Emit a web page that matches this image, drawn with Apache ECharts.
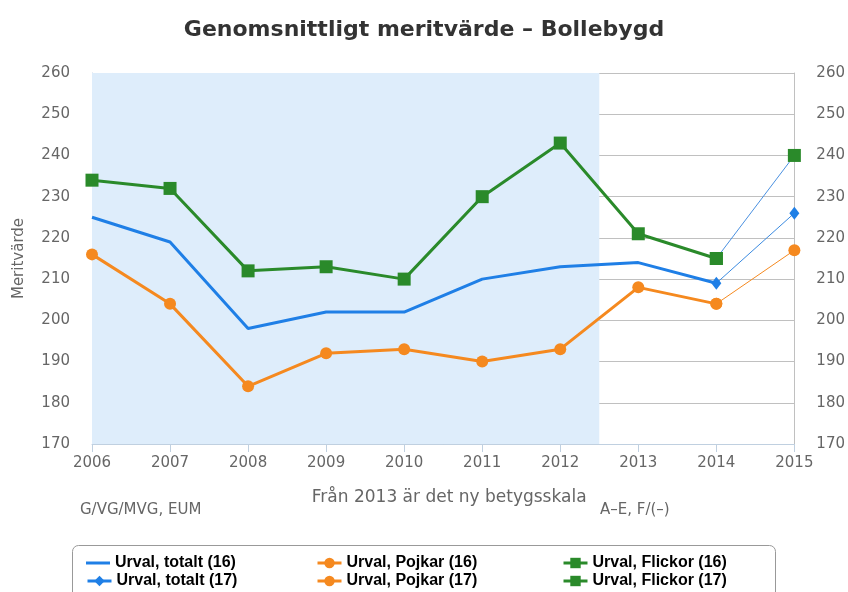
<!DOCTYPE html>
<html>
<head>
<meta charset="utf-8">
<script src="https://cdn.jsdelivr.net/npm/echarts@6/dist/echarts.min.js"></script>
<style>
  html, body { margin: 0; padding: 0; background: #fff; }
  #chart { width: 848px; height: 592px; }
</style>
</head>
<body>
<div id="chart"></div>
<script>
// årtal och värden
const years = [2006, 2007, 2008, 2009, 2010, 2011, 2012, 2013, 2014];
const totalt16 = [225, 219, 198, 202, 202, 210, 213, 214, 209];
const pojkar16 = [216, 204, 184, 192, 193, 190, 193, 208, 204];
const flickor16 = [234, 232, 212, 213, 210, 230, 243, 221, 215];

// 2017-urval: 2014 -> 2015
const years17 = [2014, 2015];
const totalt17 = [209, 226];
const pojkar17 = [204, 217];
const flickor17 = [215, 240];

const bandFrom = 2006;
const bandTo = 2012.5;

const BLUE = '#1f7fe6';
const ORANGE = '#f5891f';
const GREEN = '#2a8a2a';

const pair = (xs, ys) => xs.map((x, i) => [x, ys[i]]);

const chart = echarts.init(document.getElementById('chart'));

const axisLbl = { color: '#666', fontSize: 15, fontFamily: 'DejaVu Sans' };

// en legend per post, så att kolumnerna hamnar rätt
const makeLegend = (name, left, top, color, extra) => Object.assign({
  data: [name],
  left: left,
  top: top,
  padding: 0,
  itemWidth: 24,
  itemHeight: 13,
  itemGap: 0,
  lineStyle: { width: 3, color: color },
  textStyle: { fontFamily: 'Liberation Sans', fontWeight: 'bold', fontSize: 16, color: '#000' }
}, extra || {});

const row1 = 555, row2 = 573;

const option = {
  animation: false,
  title: {
    text: 'Genomsnittligt meritvärde – Bollebygd',
    left: 'center',
    top: 14,
    textStyle: { fontFamily: 'DejaVu Sans', fontSize: 22, fontWeight: 'bold', color: '#333' }
  },
  grid: { left: 92, right: 52, top: 73, bottom: 148 },
  legend: [
    makeLegend('Urval, totalt (16)', 86, row1, BLUE, { icon: 'rect', itemHeight: 3, itemStyle: { color: BLUE } }),
    makeLegend('Urval, totalt (17)', 86, row2, BLUE),
    makeLegend('Urval, Pojkar (16)', 316, row1, ORANGE),
    makeLegend('Urval, Pojkar (17)', 316, row2, ORANGE),
    makeLegend('Urval, Flickor (16)', 562, row1, GREEN),
    makeLegend('Urval, Flickor (17)', 562, row2, GREEN)
  ],
  graphic: [
    {
      type: 'rect',
      shape: { x: 72.5, y: 545.5, width: 703, height: 60, r: 6 },
      style: { fill: '#fff', stroke: '#999', lineWidth: 1 },
      z: -1
    },
    {
      type: 'text',
      left: 80, top: 503,
      style: { text: 'G/VG/MVG, EUM', fill: '#666', font: '15px DejaVu Sans' }
    },
    {
      type: 'text',
      left: 600, top: 503,
      style: { text: 'A–E, F/(–)', fill: '#666', font: '15px DejaVu Sans' }
    }
  ],
  xAxis: {
    type: 'value',
    min: 2006,
    max: 2015,
    interval: 1,
    name: 'Från 2013 är det ny betygsskala',
    nameLocation: 'middle',
    nameGap: 45,
    nameTextStyle: { color: '#666', fontSize: 17, fontFamily: 'DejaVu Sans', padding: [0, 0, 0, 12] },
    axisLine: { lineStyle: { color: '#c0d0e0' } },
    axisTick: { show: true, length: 8, lineStyle: { color: '#c0d0e0' } },
    axisLabel: Object.assign({ margin: 12, formatter: v => String(v) }, axisLbl),
    splitLine: { show: false }
  },
  yAxis: [
    {
      type: 'value',
      min: 170,
      max: 260,
      interval: 10,
      name: 'Meritvärde',
      nameLocation: 'middle',
      nameGap: 65,
      nameTextStyle: { color: '#666', fontSize: 15, fontFamily: 'DejaVu Sans' },
      axisLine: { show: true, lineStyle: { color: '#c0d0e0' } },
      axisTick: { show: false },
      axisLabel: Object.assign({ margin: 22 }, axisLbl),
      splitLine: { lineStyle: { color: '#c0c0c0' } }
    },
    {
      type: 'value',
      min: 170,
      max: 260,
      interval: 10,
      position: 'right',
      axisLine: { show: true, lineStyle: { color: '#c0c0c0' } },
      axisTick: { show: false },
      axisLabel: Object.assign({ margin: 22 }, axisLbl),
      splitLine: { show: false }
    }
  ],
  series: [
    {
      name: 'Urval, totalt (16)',
      type: 'line',
      data: pair(years, totalt16),
      symbol: 'none',
      color: BLUE,
      lineStyle: { width: 3 },
      z: 3,
      markArea: {
        silent: true,
        itemStyle: { color: '#deedfb' },
        data: [[{ xAxis: bandFrom }, { xAxis: bandTo }]]
      }
    },
    {
      name: 'Urval, Pojkar (16)',
      type: 'line',
      data: pair(years, pojkar16),
      symbol: 'circle',
      symbolSize: 12,
      color: ORANGE,
      lineStyle: { width: 3 },
      z: 3
    },
    {
      name: 'Urval, Flickor (16)',
      type: 'line',
      data: pair(years, flickor16),
      symbol: 'rect',
      symbolSize: 13,
      color: GREEN,
      lineStyle: { width: 3 },
      z: 3
    },
    {
      name: 'Urval, totalt (17)',
      type: 'line',
      data: pair(years17, totalt17),
      symbol: 'diamond',
      symbolSize: [10, 13],
      color: BLUE,
      lineStyle: { width: 1, color: '#3a8ae0' },
      z: 4
    },
    {
      name: 'Urval, Pojkar (17)',
      type: 'line',
      data: pair(years17, pojkar17),
      symbol: 'circle',
      symbolSize: 12,
      color: ORANGE,
      lineStyle: { width: 1 },
      z: 4
    },
    {
      name: 'Urval, Flickor (17)',
      type: 'line',
      data: pair(years17, flickor17),
      symbol: 'rect',
      symbolSize: 13,
      color: GREEN,
      lineStyle: { width: 1, color: '#4a90e0' },
      z: 4
    }
  ]
};

chart.setOption(option);
</script>
</body>
</html>
